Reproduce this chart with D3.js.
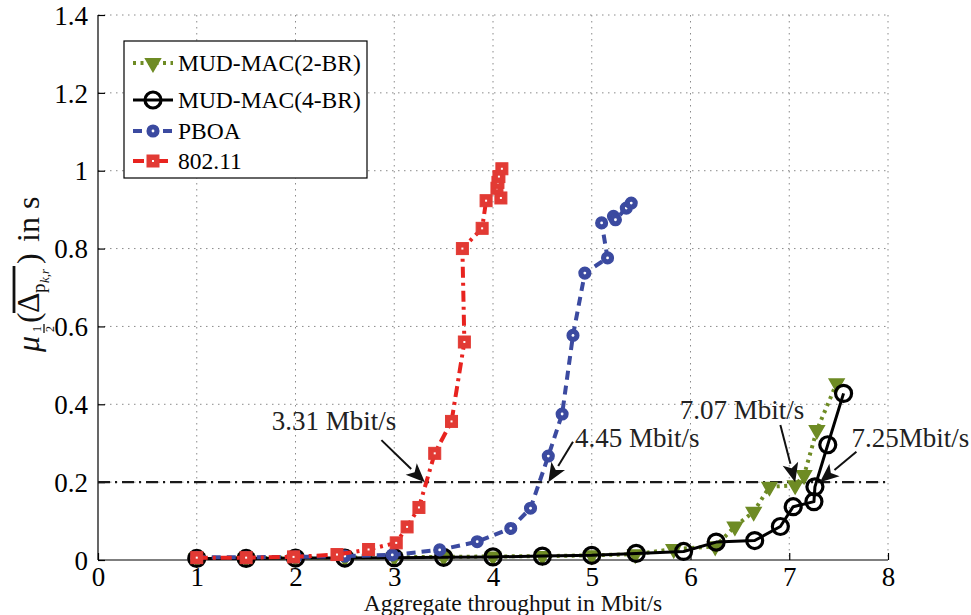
<!DOCTYPE html>
<html>
<head>
<meta charset="utf-8">
<script src="https://cdn.jsdelivr.net/npm/d3@7"></script>
<style>
  html, body { margin: 0; padding: 0; background: #fff; }
  svg { display: block; }
  svg text { font-family: "Liberation Serif", "DejaVu Serif", serif; }
</style>
</head>
<body>
<svg id="chart" width="971" height="615"></svg>
<script>
// ---------- data ----------
const xTicks = [0, 1, 2, 3, 4, 5, 6, 7, 8];
const yTicks = [0, 0.2, 0.4, 0.6, 0.8, 1, 1.2, 1.4];
const yTickLabels = ["0", "0.2", "0.4", "0.6", "0.8", "1", "1.2", "1.4"];

const seriesNames = ["MUD-MAC(2-BR)", "MUD-MAC(4-BR)", "PBOA", "802.11"];

const mud2X = [1, 1.5, 2, 2.5, 3, 3.5, 4, 4.5, 5, 5.44, 5.83, 6.25, 6.45, 6.64, 6.8, 7.06, 7.15, 7.28, 7.48];
const mud2Y = [0.005, 0.005, 0.006, 0.006, 0.007, 0.008, 0.009, 0.01, 0.012, 0.015, 0.028, 0.035, 0.086, 0.124, 0.188, 0.192, 0.218, 0.334, 0.454];

const mud4X = [1, 1.5, 2, 2.5, 3, 3.5, 4, 4.5, 5, 5.45, 5.93, 6.26, 6.65, 6.91, 7.04, 7.25, 7.26, 7.39, 7.55];
const mud4Y = [0.004, 0.004, 0.005, 0.005, 0.006, 0.007, 0.008, 0.01, 0.012, 0.017, 0.022, 0.046, 0.05, 0.086, 0.137, 0.15, 0.188, 0.296, 0.428];

const pboaX = [1, 1.5, 2, 2.5, 2.98, 3.46, 3.84, 4.18, 4.38, 4.56, 4.70, 4.81, 4.93, 5.16, 5.10, 5.22, 5.24, 5.35, 5.40];
const pboaY = [0.007, 0.007, 0.008, 0.01, 0.013, 0.026, 0.047, 0.081, 0.133, 0.267, 0.375, 0.577, 0.737, 0.776, 0.866, 0.883, 0.874, 0.904, 0.917];

const wifiX = [1, 1.5, 1.98, 2.42, 2.74, 3.02, 3.13, 3.25, 3.41, 3.58, 3.71, 3.69, 3.89, 3.93, 4.08, 4.04, 4.05, 4.06, 4.09];
const wifiY = [0.006, 0.006, 0.008, 0.014, 0.027, 0.044, 0.085, 0.135, 0.274, 0.356, 0.56, 0.80, 0.852, 0.923, 0.93, 0.955, 0.97, 0.985, 1.005];

const threshold = 0.2;

// annotations (data units)
const annLabels = ["3.31 Mbit/s", "4.45 Mbit/s", "7.07 Mbit/s", "7.25Mbit/s"];
const annTextX = [1.76, 4.83, 5.89, 7.63];
const annTextY = [0.334, 0.29, 0.362, 0.29];
const annFromX = [2.87, 4.81, 6.91, 7.68];
const annFromY = [0.308, 0.304, 0.347, 0.278];
const annTipX = [3.31, 4.56, 7.06, 7.31];
const annTipY = [0.2, 0.2, 0.2, 0.2];

// ---------- layout ----------
const FONT = "'Liberation Serif', 'DejaVu Serif', serif";
const svg = d3.select("#chart");
const L = 98, R = 888, T = 15, B = 560;
const x = d3.scaleLinear().domain([0, 8]).range([L, R]);
const y = d3.scaleLinear().domain([0, 1.4]).range([B, T]);

const colors = ["#6e8b24", "#000000", "#3b4aa0", "#e8231f"];
const markerFill = ["#6e8b24", "none", "#3b4aa0", "#e23a34"];

// grid
const grid = svg.append("g");
grid.selectAll(".gx").data(xTicks.filter(d => d > 0)).enter().append("line")
  .attr("x1", d => x(d)).attr("x2", d => x(d)).attr("y1", T).attr("y2", B)
  .attr("stroke", "#8a8a8a").attr("stroke-width", 1).attr("stroke-dasharray", "1.5,4.5");
grid.selectAll(".gy").data(yTicks.filter(d => d > 0)).enter().append("line")
  .attr("x1", L).attr("x2", R).attr("y1", d => y(d)).attr("y2", d => y(d))
  .attr("stroke", "#8a8a8a").attr("stroke-width", 1).attr("stroke-dasharray", "1.5,4.5");

// axes
const xAxis = d3.axisBottom(x).tickValues(xTicks).tickFormat(d3.format("d")).tickSize(-7).tickPadding(7);
const yAxis = d3.axisLeft(y).tickValues(yTicks).tickFormat((d, i) => yTickLabels[i]).tickSize(-7).tickPadding(10);
const gx = svg.append("g").attr("transform", `translate(0,${B})`).call(xAxis);
const gy = svg.append("g").attr("transform", `translate(${L},0)`).call(yAxis);
[gx, gy].forEach(g => {
  g.attr("font-family", FONT);
  g.select(".domain").attr("stroke", "#000").attr("stroke-width", 1.2);
  g.selectAll(".tick line").attr("stroke", "#000").attr("stroke-width", 1.2);
  g.selectAll(".tick text").attr("fill", "#000").style("font-size", "27px");
});
gx.select(".domain").attr("d", `M${L},0H${R}`);
gy.select(".domain").attr("d", `M0,${B}V${T}`);
gx.selectAll(".tick text").attr("dy", "0.72em");
gy.selectAll(".tick text").attr("dy", "0.34em");

// threshold line
svg.append("line")
  .attr("x1", x(0)).attr("x2", x(8)).attr("y1", y(threshold)).attr("y2", y(threshold))
  .attr("stroke", "#1a1a1a").attr("stroke-width", 2.2).attr("stroke-dasharray", "12,5,2,5");

// series
const dashes = ["3,4.5", null, "9,6", "11,5,3,5"];
const widths = [4, 3, 4, 4];
const seriesData = [
  mud2X.map((v, i) => [v, mud2Y[i]]),
  mud4X.map((v, i) => [v, mud4Y[i]]),
  pboaX.map((v, i) => [v, pboaY[i]]),
  wifiX.map((v, i) => [v, wifiY[i]])
];
const line = d3.line().x(d => x(d[0])).y(d => y(d[1]));

function drawMarker(g, k, cx, cy) {
  if (k === 0) {
    g.append("path").attr("d", d3.symbol().type(d3.symbolTriangle).size(95)())
      .attr("transform", `translate(${cx},${cy}) rotate(180)`)
      .attr("fill", colors[0]).attr("stroke", colors[0]).attr("stroke-width", 1.5);
  } else if (k === 1) {
    g.append("circle").attr("cx", cx).attr("cy", cy).attr("r", 8)
      .attr("fill", "none").attr("stroke", "#000").attr("stroke-width", 3.2);
  } else if (k === 2) {
    g.append("circle").attr("cx", cx).attr("cy", cy).attr("r", 5.8)
      .attr("fill", colors[2]).attr("stroke", colors[2]).attr("stroke-width", 1.5);
    g.append("circle").attr("cx", cx).attr("cy", cy).attr("r", 1.4).attr("fill", "#fff");
  } else {
    g.append("rect").attr("x", cx - 6).attr("y", cy - 6).attr("width", 12).attr("height", 12)
      .attr("fill", markerFill[3]).attr("stroke", markerFill[3]).attr("stroke-width", 1);
    g.append("rect").attr("x", cx - 1).attr("y", cy - 1).attr("width", 2).attr("height", 2).attr("fill", "#fff");
  }
}

seriesData.forEach((data, k) => {
  const g = svg.append("g");
  g.append("path").datum(data).attr("d", line)
    .attr("fill", "none").attr("stroke", colors[k]).attr("stroke-width", widths[k])
    .attr("stroke-dasharray", dashes[k]).attr("stroke-linejoin", "round");
  data.forEach(d => drawMarker(g, k, x(d[0]), y(d[1])));
});

// annotations
const ann = svg.append("g");
annLabels.forEach((lab, i) => {
  ann.append("text").attr("x", x(annTextX[i])).attr("y", y(annTextY[i]))
    .attr("fill", "#222").style("font-size", "27px").text(lab);
  const x0 = x(annFromX[i]), y0 = y(annFromY[i]), x1 = x(annTipX[i]), y1 = y(annTipY[i]);
  const ang = Math.atan2(y1 - y0, x1 - x0);
  const hl = 19, hw = 8;
  const bx = x1 - hl * Math.cos(ang), by = y1 - hl * Math.sin(ang);
  ann.append("line").attr("x1", x0).attr("y1", y0).attr("x2", bx).attr("y2", by)
    .attr("stroke", "#111").attr("stroke-width", 2);
  const px = -Math.sin(ang), py = Math.cos(ang);
  const nx = x1 - (hl * 0.75) * Math.cos(ang), ny = y1 - (hl * 0.75) * Math.sin(ang);
  ann.append("path")
    .attr("d", `M${x1},${y1}L${bx + hw * px},${by + hw * py}L${nx},${ny}L${bx - hw * px},${by - hw * py}Z`)
    .attr("fill", "#111");
});

// legend
const lg = svg.append("g");
lg.append("rect").attr("x", 124).attr("y", 41).attr("width", 243).attr("height", 137)
  .attr("fill", "#fff").attr("stroke", "#000").attr("stroke-width", 1.2);
const legY = [63, 100, 131, 161];
seriesNames.forEach((name, k) => {
  lg.append("line").attr("x1", 133).attr("x2", 173).attr("y1", legY[k]).attr("y2", legY[k])
    .attr("stroke", colors[k]).attr("stroke-width", widths[k]).attr("stroke-dasharray", dashes[k]);
  drawMarker(lg, k, 153, legY[k]);
  lg.append("text").attr("x", 178).attr("y", legY[k] + 8).style("font-size", "23.5px")
    .attr("fill", "#000").text(name);
});

// x label
svg.append("text").attr("x", 513).attr("y", 610.5).attr("text-anchor", "middle")
  .style("font-size", "23.5px").attr("fill", "#111").text("Aggregate throughput in Mbit/s");

// y label (rotated, built from pieces)
const yl = svg.append("g").attr("transform", "translate(39,352) rotate(-90)").attr("fill", "#111");
yl.append("text").attr("x", 0).attr("y", 0).style("font-size", "32px").style("font-style", "italic").text("μ");
yl.append("text").attr("x", 20).attr("y", 2).style("font-size", "12px").text("1");
yl.append("line").attr("x1", 19).attr("x2", 28).attr("y1", 5).attr("y2", 5).attr("stroke", "#111").attr("stroke-width", 1.3);
yl.append("text").attr("x", 20).attr("y", 15).style("font-size", "12px").text("2");
yl.append("text").attr("x", 29).attr("y", 0).style("font-size", "32px").text("(");
yl.append("text").attr("x", 39).attr("y", 0).style("font-size", "32px").text("Δ");
yl.append("text").attr("x", 59).attr("y", 6).style("font-size", "19px").text("p");
yl.append("text").attr("x", 69).attr("y", 10).style("font-size", "13px").style("font-style", "italic").text("k,r");
yl.append("line").attr("x1", 39).attr("x2", 86).attr("y1", -25).attr("y2", -25).attr("stroke", "#111").attr("stroke-width", 2.8);
yl.append("text").attr("x", 88).attr("y", 0).style("font-size", "32px").text(")");
yl.append("text").attr("x", 110).attr("y", 0).style("font-size", "32px").text("in s");

svg.selectAll("text").style("font-family", FONT);
</script>
</body>
</html>
